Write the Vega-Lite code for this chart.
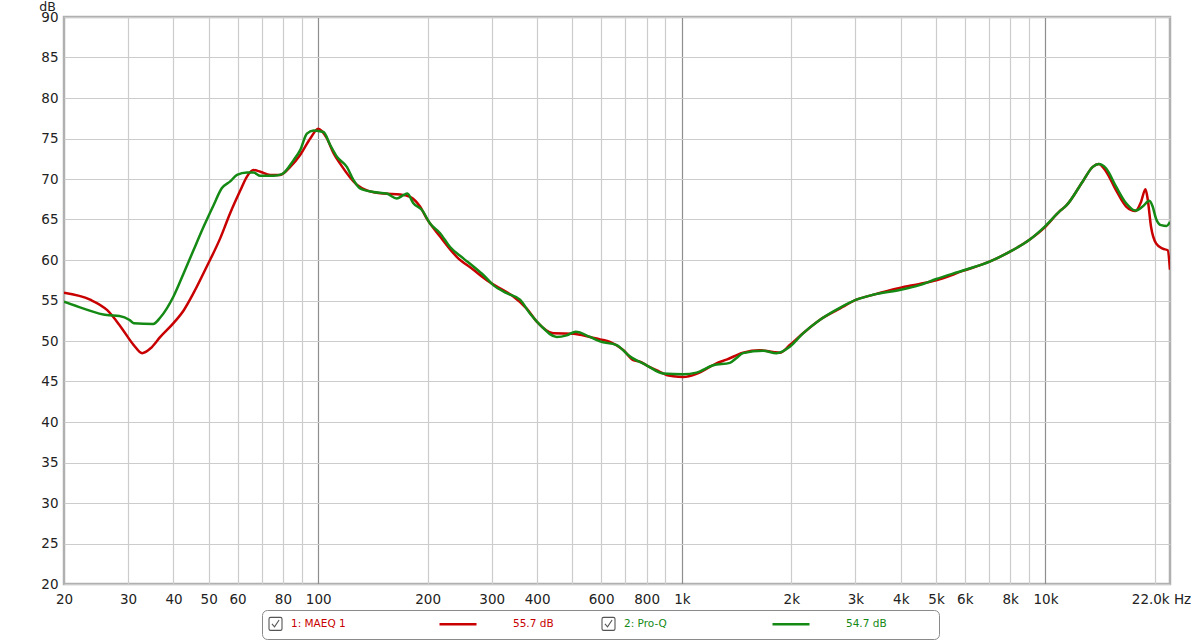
{
  "$schema": "https://vega.github.io/schema/vega-lite/v6.json",
  "width": 1106,
  "height": 567,
  "autosize": {"type": "none"},
  "padding": {"left": 64, "top": 17, "right": 30, "bottom": 56},
  "background": "white",
  "config": {
    "view": {"stroke": "#b0b0b0", "strokeWidth": 2.5},
    "font": "DejaVu Sans"
  },
  "datasets": {
    "curves": [
      {"series": "1: MAEQ 1", "level": "55.7 dB", "freq": 20, "db": 55.95},
      {"series": "1: MAEQ 1", "level": "55.7 dB", "freq": 23.6, "db": 55.1},
      {"series": "1: MAEQ 1", "level": "55.7 dB", "freq": 26.3, "db": 53.8},
      {"series": "1: MAEQ 1", "level": "55.7 dB", "freq": 28.6, "db": 51.8},
      {"series": "1: MAEQ 1", "level": "55.7 dB", "freq": 31.1, "db": 49.5},
      {"series": "1: MAEQ 1", "level": "55.7 dB", "freq": 32.8, "db": 48.5},
      {"series": "1: MAEQ 1", "level": "55.7 dB", "freq": 34.6, "db": 49.1},
      {"series": "1: MAEQ 1", "level": "55.7 dB", "freq": 36.8, "db": 50.5},
      {"series": "1: MAEQ 1", "level": "55.7 dB", "freq": 40, "db": 52.2},
      {"series": "1: MAEQ 1", "level": "55.7 dB", "freq": 42.7, "db": 53.8},
      {"series": "1: MAEQ 1", "level": "55.7 dB", "freq": 45.4, "db": 55.9},
      {"series": "1: MAEQ 1", "level": "55.7 dB", "freq": 49.4, "db": 59.2},
      {"series": "1: MAEQ 1", "level": "55.7 dB", "freq": 53.8, "db": 62.7},
      {"series": "1: MAEQ 1", "level": "55.7 dB", "freq": 57.3, "db": 65.8},
      {"series": "1: MAEQ 1", "level": "55.7 dB", "freq": 61.1, "db": 68.6},
      {"series": "1: MAEQ 1", "level": "55.7 dB", "freq": 63.7, "db": 70.3},
      {"series": "1: MAEQ 1", "level": "55.7 dB", "freq": 66.4, "db": 71.1},
      {"series": "1: MAEQ 1", "level": "55.7 dB", "freq": 69.3, "db": 70.9},
      {"series": "1: MAEQ 1", "level": "55.7 dB", "freq": 73.8, "db": 70.5},
      {"series": "1: MAEQ 1", "level": "55.7 dB", "freq": 78.6, "db": 70.5},
      {"series": "1: MAEQ 1", "level": "55.7 dB", "freq": 83.8, "db": 71.5},
      {"series": "1: MAEQ 1", "level": "55.7 dB", "freq": 89.3, "db": 73.0},
      {"series": "1: MAEQ 1", "level": "55.7 dB", "freq": 95.1, "db": 75.0},
      {"series": "1: MAEQ 1", "level": "55.7 dB", "freq": 100, "db": 76.2},
      {"series": "1: MAEQ 1", "level": "55.7 dB", "freq": 105.7, "db": 75.0},
      {"series": "1: MAEQ 1", "level": "55.7 dB", "freq": 110.2, "db": 73.2},
      {"series": "1: MAEQ 1", "level": "55.7 dB", "freq": 114.9, "db": 71.9},
      {"series": "1: MAEQ 1", "level": "55.7 dB", "freq": 127.7, "db": 69.3},
      {"series": "1: MAEQ 1", "level": "55.7 dB", "freq": 136.1, "db": 68.6},
      {"series": "1: MAEQ 1", "level": "55.7 dB", "freq": 151.1, "db": 68.2},
      {"series": "1: MAEQ 1", "level": "55.7 dB", "freq": 168, "db": 68.1},
      {"series": "1: MAEQ 1", "level": "55.7 dB", "freq": 178.9, "db": 67.8},
      {"series": "1: MAEQ 1", "level": "55.7 dB", "freq": 190.6, "db": 66.6},
      {"series": "1: MAEQ 1", "level": "55.7 dB", "freq": 198.9, "db": 65.1},
      {"series": "1: MAEQ 1", "level": "55.7 dB", "freq": 216.4, "db": 62.9},
      {"series": "1: MAEQ 1", "level": "55.7 dB", "freq": 240.4, "db": 60.4},
      {"series": "1: MAEQ 1", "level": "55.7 dB", "freq": 267.2, "db": 58.8},
      {"series": "1: MAEQ 1", "level": "55.7 dB", "freq": 290.8, "db": 57.5},
      {"series": "1: MAEQ 1", "level": "55.7 dB", "freq": 316.2, "db": 56.5},
      {"series": "1: MAEQ 1", "level": "55.7 dB", "freq": 344, "db": 55.5},
      {"series": "1: MAEQ 1", "level": "55.7 dB", "freq": 374.5, "db": 54.0},
      {"series": "1: MAEQ 1", "level": "55.7 dB", "freq": 399, "db": 52.4},
      {"series": "1: MAEQ 1", "level": "55.7 dB", "freq": 443.1, "db": 50.95},
      {"series": "1: MAEQ 1", "level": "55.7 dB", "freq": 502.8, "db": 50.9},
      {"series": "1: MAEQ 1", "level": "55.7 dB", "freq": 558.9, "db": 50.5},
      {"series": "1: MAEQ 1", "level": "55.7 dB", "freq": 595.4, "db": 50.2},
      {"series": "1: MAEQ 1", "level": "55.7 dB", "freq": 634.3, "db": 49.9},
      {"series": "1: MAEQ 1", "level": "55.7 dB", "freq": 689.9, "db": 48.9},
      {"series": "1: MAEQ 1", "level": "55.7 dB", "freq": 734.8, "db": 47.65},
      {"series": "1: MAEQ 1", "level": "55.7 dB", "freq": 766.9, "db": 47.45},
      {"series": "1: MAEQ 1", "level": "55.7 dB", "freq": 799.8, "db": 47.0},
      {"series": "1: MAEQ 1", "level": "55.7 dB", "freq": 870, "db": 46.2},
      {"series": "1: MAEQ 1", "level": "55.7 dB", "freq": 907.8, "db": 45.8},
      {"series": "1: MAEQ 1", "level": "55.7 dB", "freq": 946.5, "db": 45.65},
      {"series": "1: MAEQ 1", "level": "55.7 dB", "freq": 1008, "db": 45.55},
      {"series": "1: MAEQ 1", "level": "55.7 dB", "freq": 1097, "db": 45.95},
      {"series": "1: MAEQ 1", "level": "55.7 dB", "freq": 1194, "db": 46.8},
      {"series": "1: MAEQ 1", "level": "55.7 dB", "freq": 1245, "db": 47.25},
      {"series": "1: MAEQ 1", "level": "55.7 dB", "freq": 1327, "db": 47.7},
      {"series": "1: MAEQ 1", "level": "55.7 dB", "freq": 1474, "db": 48.55},
      {"series": "1: MAEQ 1", "level": "55.7 dB", "freq": 1638, "db": 48.85},
      {"series": "1: MAEQ 1", "level": "55.7 dB", "freq": 1782, "db": 48.65},
      {"series": "1: MAEQ 1", "level": "55.7 dB", "freq": 1859, "db": 48.55},
      {"series": "1: MAEQ 1", "level": "55.7 dB", "freq": 1981, "db": 49.5},
      {"series": "1: MAEQ 1", "level": "55.7 dB", "freq": 2154, "db": 50.95},
      {"series": "1: MAEQ 1", "level": "55.7 dB", "freq": 2394, "db": 52.6},
      {"series": "1: MAEQ 1", "level": "55.7 dB", "freq": 2718, "db": 54.0},
      {"series": "1: MAEQ 1", "level": "55.7 dB", "freq": 3020, "db": 55.1},
      {"series": "1: MAEQ 1", "level": "55.7 dB", "freq": 3354, "db": 55.7},
      {"series": "1: MAEQ 1", "level": "55.7 dB", "freq": 3972, "db": 56.55},
      {"series": "1: MAEQ 1", "level": "55.7 dB", "freq": 4507, "db": 57.05},
      {"series": "1: MAEQ 1", "level": "55.7 dB", "freq": 5008, "db": 57.5},
      {"series": "1: MAEQ 1", "level": "55.7 dB", "freq": 5927, "db": 58.65},
      {"series": "1: MAEQ 1", "level": "55.7 dB", "freq": 7019, "db": 59.8},
      {"series": "1: MAEQ 1", "level": "55.7 dB", "freq": 7963, "db": 61.0},
      {"series": "1: MAEQ 1", "level": "55.7 dB", "freq": 9036, "db": 62.5},
      {"series": "1: MAEQ 1", "level": "55.7 dB", "freq": 9938, "db": 64.0},
      {"series": "1: MAEQ 1", "level": "55.7 dB", "freq": 10930, "db": 66.0},
      {"series": "1: MAEQ 1", "level": "55.7 dB", "freq": 11400, "db": 66.7},
      {"series": "1: MAEQ 1", "level": "55.7 dB", "freq": 12660, "db": 69.7},
      {"series": "1: MAEQ 1", "level": "55.7 dB", "freq": 13490, "db": 71.5},
      {"series": "1: MAEQ 1", "level": "55.7 dB", "freq": 14010, "db": 71.85},
      {"series": "1: MAEQ 1", "level": "55.7 dB", "freq": 14690, "db": 70.9},
      {"series": "1: MAEQ 1", "level": "55.7 dB", "freq": 15640, "db": 68.6},
      {"series": "1: MAEQ 1", "level": "55.7 dB", "freq": 16670, "db": 66.6},
      {"series": "1: MAEQ 1", "level": "55.7 dB", "freq": 17670, "db": 66.05},
      {"series": "1: MAEQ 1", "level": "55.7 dB", "freq": 18320, "db": 67.2},
      {"series": "1: MAEQ 1", "level": "55.7 dB", "freq": 18830, "db": 68.75},
      {"series": "1: MAEQ 1", "level": "55.7 dB", "freq": 19090, "db": 67.6},
      {"series": "1: MAEQ 1", "level": "55.7 dB", "freq": 19510, "db": 64.1},
      {"series": "1: MAEQ 1", "level": "55.7 dB", "freq": 20140, "db": 62.05},
      {"series": "1: MAEQ 1", "level": "55.7 dB", "freq": 21000, "db": 61.4},
      {"series": "1: MAEQ 1", "level": "55.7 dB", "freq": 21680, "db": 61.2},
      {"series": "1: MAEQ 1", "level": "55.7 dB", "freq": 22000, "db": 58.8},
      {"series": "2: Pro-Q", "level": "54.7 dB", "freq": 20, "db": 54.85},
      {"series": "2: Pro-Q", "level": "54.7 dB", "freq": 22.65, "db": 54.0},
      {"series": "2: Pro-Q", "level": "54.7 dB", "freq": 26.2, "db": 53.2},
      {"series": "2: Pro-Q", "level": "54.7 dB", "freq": 28.4, "db": 53.1},
      {"series": "2: Pro-Q", "level": "54.7 dB", "freq": 30.3, "db": 52.6},
      {"series": "2: Pro-Q", "level": "54.7 dB", "freq": 31.1, "db": 52.2},
      {"series": "2: Pro-Q", "level": "54.7 dB", "freq": 35.2, "db": 52.1},
      {"series": "2: Pro-Q", "level": "54.7 dB", "freq": 36.8, "db": 52.9},
      {"series": "2: Pro-Q", "level": "54.7 dB", "freq": 40, "db": 55.5},
      {"series": "2: Pro-Q", "level": "54.7 dB", "freq": 42.7, "db": 58.4},
      {"series": "2: Pro-Q", "level": "54.7 dB", "freq": 45.4, "db": 61.2},
      {"series": "2: Pro-Q", "level": "54.7 dB", "freq": 48.4, "db": 64.1},
      {"series": "2: Pro-Q", "level": "54.7 dB", "freq": 51.6, "db": 66.8},
      {"series": "2: Pro-Q", "level": "54.7 dB", "freq": 54.3, "db": 68.85},
      {"series": "2: Pro-Q", "level": "54.7 dB", "freq": 57.3, "db": 69.7},
      {"series": "2: Pro-Q", "level": "54.7 dB", "freq": 59.8, "db": 70.5},
      {"series": "2: Pro-Q", "level": "54.7 dB", "freq": 63.7, "db": 70.8},
      {"series": "2: Pro-Q", "level": "54.7 dB", "freq": 66.4, "db": 70.8},
      {"series": "2: Pro-Q", "level": "54.7 dB", "freq": 69.3, "db": 70.4},
      {"series": "2: Pro-Q", "level": "54.7 dB", "freq": 75.4, "db": 70.4},
      {"series": "2: Pro-Q", "level": "54.7 dB", "freq": 79.5, "db": 70.6},
      {"series": "2: Pro-Q", "level": "54.7 dB", "freq": 85.5, "db": 72.3},
      {"series": "2: Pro-Q", "level": "54.7 dB", "freq": 89.3, "db": 73.6},
      {"series": "2: Pro-Q", "level": "54.7 dB", "freq": 93.1, "db": 75.6},
      {"series": "2: Pro-Q", "level": "54.7 dB", "freq": 97.1, "db": 76.0},
      {"series": "2: Pro-Q", "level": "54.7 dB", "freq": 103.4, "db": 75.8},
      {"series": "2: Pro-Q", "level": "54.7 dB", "freq": 107.9, "db": 74.2},
      {"series": "2: Pro-Q", "level": "54.7 dB", "freq": 112.6, "db": 72.75},
      {"series": "2: Pro-Q", "level": "54.7 dB", "freq": 119.9, "db": 71.5},
      {"series": "2: Pro-Q", "level": "54.7 dB", "freq": 125, "db": 69.9},
      {"series": "2: Pro-Q", "level": "54.7 dB", "freq": 130.4, "db": 68.85},
      {"series": "2: Pro-Q", "level": "54.7 dB", "freq": 141.9, "db": 68.4},
      {"series": "2: Pro-Q", "level": "54.7 dB", "freq": 154.4, "db": 68.2},
      {"series": "2: Pro-Q", "level": "54.7 dB", "freq": 164.5, "db": 67.6},
      {"series": "2: Pro-Q", "level": "54.7 dB", "freq": 171.5, "db": 68.0},
      {"series": "2: Pro-Q", "level": "54.7 dB", "freq": 175.9, "db": 68.2},
      {"series": "2: Pro-Q", "level": "54.7 dB", "freq": 182.7, "db": 67.0},
      {"series": "2: Pro-Q", "level": "54.7 dB", "freq": 192.7, "db": 66.2},
      {"series": "2: Pro-Q", "level": "54.7 dB", "freq": 203.1, "db": 64.5},
      {"series": "2: Pro-Q", "level": "54.7 dB", "freq": 216.4, "db": 63.3},
      {"series": "2: Pro-Q", "level": "54.7 dB", "freq": 230.5, "db": 61.6},
      {"series": "2: Pro-Q", "level": "54.7 dB", "freq": 250.7, "db": 60.2},
      {"series": "2: Pro-Q", "level": "54.7 dB", "freq": 267.2, "db": 59.2},
      {"series": "2: Pro-Q", "level": "54.7 dB", "freq": 284.5, "db": 58.15},
      {"series": "2: Pro-Q", "level": "54.7 dB", "freq": 303.1, "db": 56.9},
      {"series": "2: Pro-Q", "level": "54.7 dB", "freq": 330, "db": 55.9},
      {"series": "2: Pro-Q", "level": "54.7 dB", "freq": 358.8, "db": 55.1},
      {"series": "2: Pro-Q", "level": "54.7 dB", "freq": 382.3, "db": 53.4},
      {"series": "2: Pro-Q", "level": "54.7 dB", "freq": 407.3, "db": 52.0},
      {"series": "2: Pro-Q", "level": "54.7 dB", "freq": 452.7, "db": 50.5},
      {"series": "2: Pro-Q", "level": "54.7 dB", "freq": 482.3, "db": 50.7},
      {"series": "2: Pro-Q", "level": "54.7 dB", "freq": 511, "db": 51.15},
      {"series": "2: Pro-Q", "level": "54.7 dB", "freq": 558.9, "db": 50.5},
      {"series": "2: Pro-Q", "level": "54.7 dB", "freq": 595.4, "db": 49.95},
      {"series": "2: Pro-Q", "level": "54.7 dB", "freq": 661.7, "db": 49.5},
      {"series": "2: Pro-Q", "level": "54.7 dB", "freq": 719.6, "db": 48.1},
      {"series": "2: Pro-Q", "level": "54.7 dB", "freq": 799.8, "db": 47.0},
      {"series": "2: Pro-Q", "level": "54.7 dB", "freq": 888.3, "db": 46.0},
      {"series": "2: Pro-Q", "level": "54.7 dB", "freq": 1008, "db": 45.9},
      {"series": "2: Pro-Q", "level": "54.7 dB", "freq": 1097, "db": 46.1},
      {"series": "2: Pro-Q", "level": "54.7 dB", "freq": 1219, "db": 47.0},
      {"series": "2: Pro-Q", "level": "54.7 dB", "freq": 1355, "db": 47.3},
      {"series": "2: Pro-Q", "level": "54.7 dB", "freq": 1414, "db": 47.9},
      {"series": "2: Pro-Q", "level": "54.7 dB", "freq": 1474, "db": 48.5},
      {"series": "2: Pro-Q", "level": "54.7 dB", "freq": 1673, "db": 48.8},
      {"series": "2: Pro-Q", "level": "54.7 dB", "freq": 1820, "db": 48.5},
      {"series": "2: Pro-Q", "level": "54.7 dB", "freq": 1981, "db": 49.3},
      {"series": "2: Pro-Q", "level": "54.7 dB", "freq": 2154, "db": 50.95},
      {"series": "2: Pro-Q", "level": "54.7 dB", "freq": 2394, "db": 52.6},
      {"series": "2: Pro-Q", "level": "54.7 dB", "freq": 2718, "db": 54.1},
      {"series": "2: Pro-Q", "level": "54.7 dB", "freq": 3020, "db": 55.1},
      {"series": "2: Pro-Q", "level": "54.7 dB", "freq": 3354, "db": 55.7},
      {"series": "2: Pro-Q", "level": "54.7 dB", "freq": 3972, "db": 56.3},
      {"series": "2: Pro-Q", "level": "54.7 dB", "freq": 4507, "db": 56.9},
      {"series": "2: Pro-Q", "level": "54.7 dB", "freq": 5008, "db": 57.65},
      {"series": "2: Pro-Q", "level": "54.7 dB", "freq": 5927, "db": 58.7},
      {"series": "2: Pro-Q", "level": "54.7 dB", "freq": 7019, "db": 59.8},
      {"series": "2: Pro-Q", "level": "54.7 dB", "freq": 7963, "db": 61.0},
      {"series": "2: Pro-Q", "level": "54.7 dB", "freq": 9036, "db": 62.5},
      {"series": "2: Pro-Q", "level": "54.7 dB", "freq": 9938, "db": 64.1},
      {"series": "2: Pro-Q", "level": "54.7 dB", "freq": 10930, "db": 66.0},
      {"series": "2: Pro-Q", "level": "54.7 dB", "freq": 11400, "db": 66.7},
      {"series": "2: Pro-Q", "level": "54.7 dB", "freq": 12660, "db": 69.7},
      {"series": "2: Pro-Q", "level": "54.7 dB", "freq": 13490, "db": 71.5},
      {"series": "2: Pro-Q", "level": "54.7 dB", "freq": 14010, "db": 71.85},
      {"series": "2: Pro-Q", "level": "54.7 dB", "freq": 14690, "db": 71.3},
      {"series": "2: Pro-Q", "level": "54.7 dB", "freq": 15640, "db": 69.05},
      {"series": "2: Pro-Q", "level": "54.7 dB", "freq": 16670, "db": 67.0},
      {"series": "2: Pro-Q", "level": "54.7 dB", "freq": 17670, "db": 66.1},
      {"series": "2: Pro-Q", "level": "54.7 dB", "freq": 18500, "db": 66.6},
      {"series": "2: Pro-Q", "level": "54.7 dB", "freq": 19300, "db": 67.3},
      {"series": "2: Pro-Q", "level": "54.7 dB", "freq": 19710, "db": 66.6},
      {"series": "2: Pro-Q", "level": "54.7 dB", "freq": 20140, "db": 65.1},
      {"series": "2: Pro-Q", "level": "54.7 dB", "freq": 20790, "db": 64.3},
      {"series": "2: Pro-Q", "level": "54.7 dB", "freq": 21540, "db": 64.2},
      {"series": "2: Pro-Q", "level": "54.7 dB", "freq": 22000, "db": 64.7}
    ]
  },
  "data": {"name": "curves"},
  "mark": {"type": "line", "interpolate": "monotone", "clip": true, "strokeWidth": 2.5},
  "encoding": {
    "x": {
      "field": "freq",
      "type": "quantitative",
      "scale": {"type": "log", "domain": [20, 22000], "nice": false},
      "axis": {
        "title": null,
        "values": [20, 30, 40, 50, 60, 70, 80, 90, 100, 200, 300, 400, 500, 600, 700, 800, 900, 1000, 2000, 3000, 4000, 5000, 6000, 7000, 8000, 9000, 10000, 20000, 22000],
        "labelExpr": "datum.value == 22000 ? '22.0k Hz' : (indexof([70, 90, 500, 700, 900, 7000, 9000, 20000], datum.value) >= 0 ? '' : (datum.value >= 1000 ? (datum.value / 1000) + 'k' : '' + datum.value))",
        "grid": true,
        "gridColor": {"condition": {"test": "datum.value == 100 || datum.value == 1000 || datum.value == 10000", "value": "#8e8e8e"}, "value": "#cccccc"},
        "gridOpacity": {"condition": {"test": "datum.value == 20 || datum.value == 22000", "value": 0}, "value": 1},
        "gridWidth": 1.2,
        "ticks": false,
        "domain": false,
        "labelFont": "DejaVu Sans",
        "labelFontSize": 13.5,
        "labelColor": "#222222",
        "labelPadding": 8,
        "labelFlush": false,
        "labelOverlap": false,
        "labelBound": false,
        "labelOffset": {"condition": {"test": "datum.value == 22000", "value": -9}, "value": 0}
      }
    },
    "y": {
      "field": "db",
      "type": "quantitative",
      "scale": {"domain": [20, 90], "nice": false, "zero": false},
      "axis": {
        "title": "dB",
        "titleAngle": 0,
        "titleX": -17,
        "titleY": -7,
        "titleAlign": "center",
        "titleBaseline": "alphabetic",
        "titleFont": "DejaVu Sans",
        "titleFontSize": 12.5,
        "titleFontWeight": "normal",
        "titleColor": "#222222",
        "values": [20, 25, 30, 35, 40, 45, 50, 55, 60, 65, 70, 75, 80, 85, 90],
        "grid": true,
        "gridColor": "#cccccc",
        "gridWidth": 1.2,
        "ticks": false,
        "domain": false,
        "labelFont": "DejaVu Sans",
        "labelFontSize": 13.5,
        "labelColor": "#222222",
        "labelPadding": 6,
        "labelFlush": false,
        "labelOverlap": false
      }
    },
    "color": {
      "field": "level",
      "type": "nominal",
      "sort": null,
      "scale": {"range": ["#c80000", "#148a14"]},
      "legend": {
        "orient": "none",
        "legendX": 374,
        "legendY": 587,
        "direction": "horizontal",
        "columns": 2,
        "columnPadding": 213,
        "symbolType": "stroke",
        "symbolSize": 1369,
        "symbolStrokeWidth": 2.5,
        "labelFont": "DejaVu Sans",
        "labelFontSize": 10.5,
        "labelOffset": 35,
        "title": null,
        "padding": 0,
        "encode": {
          "labels": {"update": {"fill": {"scale": "color", "field": "value"}}}
        }
      }
    },
    "opacity": {
      "field": "series",
      "type": "ordinal",
      "scale": {"range": [1, 1]},
      "legend": {
        "orient": "none",
        "legendX": 198,
        "legendY": 593,
        "direction": "horizontal",
        "columns": 2,
        "columnPadding": 253,
        "symbolType": "M-0.75,-1H0.75Q1,-1 1,-0.75V0.75Q1,1 0.75,1H-0.75Q-1,1 -1,0.75V-0.75Q-1,-1 -0.75,-1Z M-0.55,0L-0.15,0.45L0.55,-0.6",
        "symbolSize": 169,
        "symbolStrokeWidth": 1.1,
        "symbolStrokeColor": "#555555",
        "symbolFillColor": "transparent",
        "labelFont": "DejaVu Sans",
        "labelFontSize": 10.5,
        "labelOffset": 8,
        "strokeColor": "#8a8a8a",
        "cornerRadius": 5,
        "padding": 6,
        "title": "\u00a0",
        "titleOrient": "right",
        "titlePadding": 266,
        "titleFontSize": 1,
        "encode": {
          "symbols": {"update": {"stroke": {"value": "#555555"}, "fill": {"value": "transparent"}}},
          "labels": {"update": {"fill": {"signal": "scale('color', domain('color')[datum.index])"}}}
        }
      }
    }
  }
}
